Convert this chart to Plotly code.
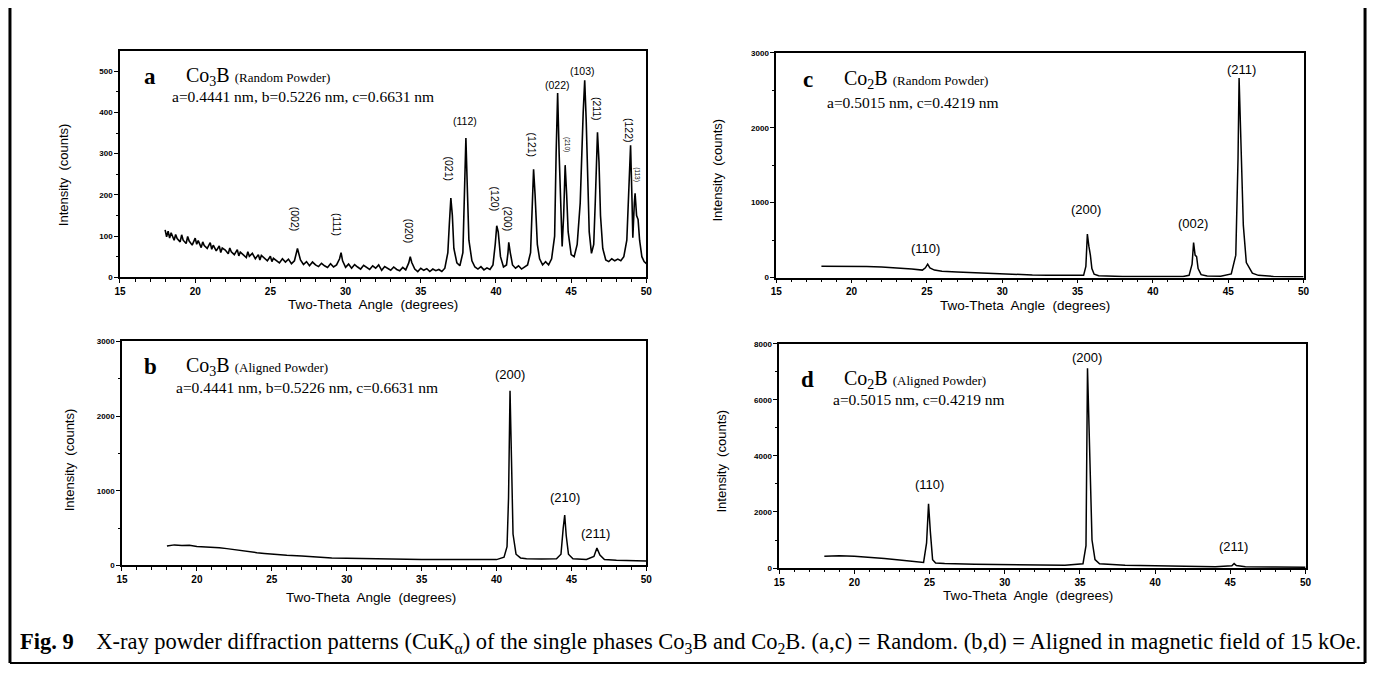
import plotly.graph_objects as go

W, H = 1376, 675

# ---------------- data ----------------
# Panel a: Co3B random powder
a_x = [18.0, 18.1, 18.2, 18.3, 18.4, 18.6, 18.7, 18.8, 19.0, 19.1, 19.2, 19.4, 19.5, 19.6, 19.8,
       20.0, 20.1, 20.2, 20.4, 20.5, 20.6, 20.8, 21.0, 21.1, 21.2, 21.4, 21.6, 21.7, 21.8, 22.0,
       22.2, 22.3, 22.4, 22.6, 22.8, 22.9, 23.0, 23.2, 23.4, 23.5, 23.6, 23.8, 24.0, 24.2, 24.3,
       24.4, 24.6, 24.8, 25.0, 25.1, 25.2, 25.4, 25.6, 25.8, 26.0, 26.2, 26.4, 26.6, 26.8,
       27.0, 27.2, 27.4, 27.6, 27.8, 28.0, 28.2, 28.4, 28.6, 28.8, 29.0, 29.2, 29.4, 29.6, 29.7,
       29.8, 30.0, 30.2, 30.4, 30.6, 30.8, 31.0, 31.2, 31.4, 31.6, 31.8, 32.0, 32.2, 32.4, 32.6,
       32.8, 33.0, 33.2, 33.4, 33.6, 33.8, 34.0, 34.2, 34.3, 34.4, 34.6, 34.8, 35.0, 35.2, 35.4,
       35.6, 35.8, 36.0, 36.2, 36.4, 36.6, 36.8, 36.9, 37.0, 37.1, 37.2, 37.4, 37.6, 37.8, 37.9,
       38.0, 38.1, 38.2, 38.4, 38.6, 38.8, 39.0, 39.2, 39.4, 39.6, 39.8, 39.95, 40.05, 40.15, 40.3,
       40.5, 40.7, 40.8, 40.85, 40.95, 41.1, 41.3, 41.5, 41.7, 41.9, 42.1, 42.3, 42.4, 42.5, 42.6,
       42.75, 42.9, 43.1, 43.3, 43.5, 43.7, 43.9, 44.0, 44.1, 44.2, 44.3, 44.4, 44.5, 44.6, 44.7,
       44.8, 45.0, 45.2, 45.4, 45.6, 45.8, 45.9, 46.0, 46.1, 46.2, 46.35, 46.5, 46.6, 46.7, 46.75,
       46.85, 46.95, 47.1, 47.3, 47.5, 47.7, 47.9, 48.1, 48.3, 48.5, 48.7, 48.85, 48.95, 49.05, 49.1,
       49.2, 49.25, 49.35, 49.45, 49.55, 49.7, 49.85, 50.0]
a_y = [115, 98, 112, 95, 108, 90, 104, 94, 86, 103, 90, 82, 99, 88, 78,
       95, 80, 89, 72, 86, 77, 70, 84, 68, 78, 64, 76, 60, 71, 66,
       57, 71, 62, 55, 67, 52, 61, 54, 48, 62, 51, 58, 45, 55, 42,
       53, 47, 40, 51, 38, 46, 40, 35, 45, 37, 44, 33, 40, 70,
       42, 31, 38, 28, 37, 30, 26, 34, 28, 24, 33, 25, 30, 45, 60,
       40, 24, 32, 22, 31, 25, 20, 29, 23, 19, 28, 22, 30, 17, 26,
       21, 17, 25, 19, 16, 24, 18, 35, 50, 36, 20, 14, 22, 17, 21,
       14, 20, 16, 19, 14, 22, 60, 130, 192, 150, 70, 35, 28, 60, 180,
       338, 210, 90, 40, 25, 20, 26, 18, 23, 19, 30, 80, 125, 110, 50,
       25, 30, 60, 85, 60, 30, 22, 28, 20, 25, 30, 60, 180, 262, 200,
       80, 45, 30, 38, 30, 45, 100, 300, 447, 300, 150, 75, 150, 272, 200,
       110, 55, 50, 80, 180, 400, 478, 380, 220, 110, 58, 80, 180, 300, 352,
       280, 150, 70, 42, 38, 45, 40, 44, 40, 50, 90, 220, 320, 180, 96,
       180, 204, 150, 140, 90, 50, 38, 33]
a_labels = ["(002)", "(111)", "(020)", "(021)", "(112)", "(120)", "(200)",
            "(121)", "(022)", "(210)", "(103)", "(211)", "(122)", "(113)"]
a_lab_x = [26.6, 29.44, 34.18, 36.9, 37.94, 39.92, 40.77, 42.42, 44.07, 44.73, 45.78, 46.77, 48.88, 49.41]
a_lab_y = [141, 129, 112, 263, 378, 189, 141, 321, 466, 323, 500, 409, 356, 249]
a_lab_rot = [90, 90, 90, 90, 0, 90, 90, 90, 0, 90, 0, 90, 90, 90]
a_lab_size = [10.5, 10.5, 10.5, 10.5, 10.5, 10.5, 10.5, 10.5, 10.5, 6.5, 10.5, 10.5, 10.5, 6.5]

# Panel b: Co3B aligned powder
b_x = [18.0, 18.5, 19.0, 19.5, 20.0, 20.5, 21.0, 21.5, 22.0, 22.5, 23.0, 23.5, 24.0, 24.5, 25.0,
       26.0, 27.0, 28.0, 29.0, 30.0, 31.0, 32.0, 33.0, 34.0, 35.0, 36.0, 37.0, 38.0, 39.0, 40.0,
       40.5, 40.7, 40.8, 40.9, 41.0, 41.1, 41.3, 41.6, 42.0, 43.0, 44.0, 44.3, 44.45, 44.55, 44.65,
       44.8, 45.1, 45.6, 46.0, 46.5, 46.7, 46.9, 47.2, 48.0, 49.0, 50.0]
b_y = [260, 275, 268, 270, 255, 250, 240, 235, 225, 210, 190, 180, 170, 160, 150,
       135, 125, 110, 100, 95, 90, 85, 83, 80, 80, 78, 76, 75, 75, 78,
       110, 250, 900, 2340, 1400, 420, 150, 100, 90, 85, 90, 150, 500, 675, 400,
       150, 90, 85, 80, 120, 232, 140, 80, 70, 65, 60]
b_labels = ["(200)", "(210)", "(211)"]
b_lab_x = [40.88, 44.58, 46.63]
b_lab_y = [2555, 916, 427]

# Panel c: Co2B random powder
c_x = [18.0, 19.0, 20.0, 21.0, 22.0, 23.0, 24.0, 24.7, 24.9, 25.05, 25.2, 25.5, 26.0, 27.0, 28.0,
       29.0, 30.0, 31.0, 32.0, 33.0, 34.0, 35.0, 35.4, 35.55, 35.65, 35.75, 35.85, 35.95, 36.1, 36.4,
       37.0, 38.0, 39.0, 40.0, 41.0, 42.0, 42.4, 42.6, 42.7, 42.8, 42.9, 43.0, 43.2, 43.6, 44.5,
       45.2, 45.5, 45.65, 45.72, 45.8, 45.9, 46.0, 46.2, 46.6, 47.0, 48.0, 49.0, 50.0]
c_y = [150, 152, 155, 148, 140, 130, 115, 100, 130, 180, 130, 100, 85, 75, 65,
       55, 45, 40, 35, 32, 30, 25, 30, 150, 580, 420, 300, 120, 45, 25,
       18, 15, 15, 15, 15, 15, 30, 180, 468, 300, 280, 120, 40, 20, 18,
       50, 300, 1600, 2665, 2000, 1400, 700, 200, 60, 30, 15, 12, 10]
c_labels = ["(110)", "(200)", "(002)", "(211)"]
c_lab_x = [24.93, 35.53, 42.63, 45.86]
c_lab_y = [386, 912, 728, 2780]

# Panel d: Co2B aligned powder
d_x = [18.0, 19.0, 20.0, 21.0, 22.0, 23.0, 24.0, 24.6, 24.8, 24.93, 25.05, 25.2, 25.4, 26.0, 28.0,
       30.0, 32.0, 34.0, 35.2, 35.4, 35.5, 35.6, 35.7, 35.8, 36.0, 36.3, 38.0, 40.0, 42.0, 44.0,
       45.1, 45.25, 45.4, 46.0, 48.0, 50.0]
d_y = [420, 440, 420, 390, 340, 290, 230, 200, 900, 2290, 1300, 300, 180, 160, 140,
       120, 110, 100, 150, 800, 7125, 5000, 2800, 1000, 300, 150, 100, 80, 60, 50,
       80, 160, 90, 50, 40, 30]
d_labels = ["(110)", "(200)", "(211)"]
d_lab_x = [25.02, 35.5, 45.19]
d_lab_y = [2979, 7517, 763]

# ---------------- helpers ----------------
def px(x):
    return x / W

def py(y):
    return 1 - y / H

SANS = "Liberation Sans, Arial, sans-serif"
SERIF = "Liberation Serif, Times New Roman, serif"

fig = go.Figure()

panels = [
    # axis suffix, xs, ys, domain x (px), domain y (px), yrange, ydtick, yminor, line width
    ("", a_x, a_y, (115, 646), (48, 277), [0, 548], 100, 50, 1.6),
    ("2", b_x, b_y, (117, 646), (342, 569), [0, 3000], 1000, 500, 1.5),
    ("3", c_x, c_y, (777, 1309), (49.5, 277.3), [0, 3000], 1000, 500, 1.5),
    ("4", d_x, d_y, (780, 1311), (344.3, 571.7), [0, 8000], 2000, 1000, 1.5),
]

layout_axes = {}
for name, xs, ys, dx, dy, yr, ydt, ymin, lw in panels:
    fig.add_trace(go.Scatter(x=xs, y=ys, mode="lines",
                             line=dict(color="black", width=lw),
                             xaxis="x" + name, yaxis="y" + name,
                             showlegend=False, hoverinfo="skip"))
    layout_axes["xaxis" + name] = dict(
        domain=[px(dx[0]), px(dx[1])], range=[15, 50], anchor="y" + name,
        dtick=5, tick0=15, ticks="outside", ticklen=4, tickwidth=1.2, tickcolor="black",
        showline=True, linecolor="black", linewidth=1.5, mirror=True,
        showgrid=False, zeroline=False,
        tickfont=dict(family=SANS, size=10, color="black", weight="bold"),
        minor=dict(dtick=1, ticks="outside", ticklen=2.5, tickcolor="black", showgrid=False),
    )
    layout_axes["yaxis" + name] = dict(
        domain=[py(dy[1]), py(dy[0])], range=yr, anchor="x" + name,
        dtick=ydt, tick0=0, ticks="outside", ticklen=4, tickwidth=1.2, tickcolor="black",
        showline=True, linecolor="black", linewidth=1.5, mirror=True,
        showgrid=False, zeroline=False,
        tickfont=dict(family=SANS, size=8, color="black", weight="bold"),
        minor=dict(dtick=ymin, ticks="outside", ticklen=2.5, tickcolor="black", showgrid=False),
    )

ann = []

def peak_labels(labels, xs, ys, name, rots=None, sizes=None):
    for i, (t, x, y) in enumerate(zip(labels, xs, ys)):
        ann.append(dict(text=t, x=x, y=y, xref="x" + name, yref="y" + name,
                        showarrow=False, textangle=(rots[i] if rots else 0),
                        font=dict(family=SANS, size=(sizes[i] if sizes else 13), color="black")))

peak_labels(a_labels, a_lab_x, a_lab_y, "", a_lab_rot, a_lab_size)
peak_labels(b_labels, b_lab_x, b_lab_y, "2")
peak_labels(c_labels, c_lab_x, c_lab_y, "3")
peak_labels(d_labels, d_lab_x, d_lab_y, "4")

def ptext(t, x, y, size, family=SERIF, xanchor="left", angle=0):
    ann.append(dict(text=t, x=px(x), y=py(y), xref="paper", yref="paper",
                    showarrow=False, xanchor=xanchor, yanchor="middle", textangle=angle,
                    font=dict(family=family, size=size, color="black")))

SMALL = "<span style='font-size:13px'>%s</span>"
headers = [
    ("a", 137, 73, "Co<sub>3</sub>B " + SMALL % "(Random Powder)", 180, 73,
     "a=0.4441 nm, b=0.5226 nm, c=0.6631 nm", 165, 94),
    ("b", 137, 367, "Co<sub>3</sub>B " + SMALL % "(Aligned Powder)", 180, 367,
     "a=0.4441 nm, b=0.5226 nm, c=0.6631 nm", 169, 389),
    ("c", 802, 77, "Co<sub>2</sub>B " + SMALL % "(Random Powder)", 843, 77,
     "a=0.5015 nm, c=0.4219 nm", 826, 100),
    ("d", 800, 381, "Co<sub>2</sub>B " + SMALL % "(Aligned Powder)", 843, 381,
     "a=0.5015 nm, c=0.4219 nm", 832, 401),
]
for let, lx, ly, head, hx, hy, par, qx, qy in headers:
    ptext("<b>%s</b>" % let, lx, ly, 23)
    ptext(head, hx, hy, 20)
    ptext(par, qx, qy, 15.5)

# axis titles
for x, y in [(58, 173), (64, 462), (718, 168), (722, 463)]:
    ptext("Intensity  (counts)", x, y, 13, SANS, "center", -90)
for x, y in [(370, 305), (368, 602), (1028, 306), (1031, 599)]:
    ptext("Two-Theta  Angle  (degrees)", x, y, 13.5, SANS, "center")

# caption
ptext("<b>Fig. 9</b>    X-ray powder diffraction patterns (CuK<sub>α</sub>) of the single phases "
      "Co<sub>3</sub>B and Co<sub>2</sub>B. (a,c) = Random. (b,d) = Aligned in magnetic field of 15 kOe.",
      12, 648, 22.5)

shapes = [
    dict(type="line", xref="paper", yref="paper", x0=px(4), x1=px(4), y0=py(4), y1=py(668),
         line=dict(color="black", width=3)),
    dict(type="line", xref="paper", yref="paper", x0=px(1371), x1=px(1371), y0=py(4), y1=py(668),
         line=dict(color="black", width=3)),
    dict(type="line", xref="paper", yref="paper", x0=px(4), x1=px(1371), y0=py(668), y1=py(668),
         line=dict(color="black", width=2)),
]

fig.update_layout(width=W, height=H, margin=dict(l=0, r=0, t=0, b=0),
                  paper_bgcolor="white", plot_bgcolor="white",
                  annotations=ann, shapes=shapes, **layout_axes)

fig.write_html("out.html", config={"displayModeBar": False})
